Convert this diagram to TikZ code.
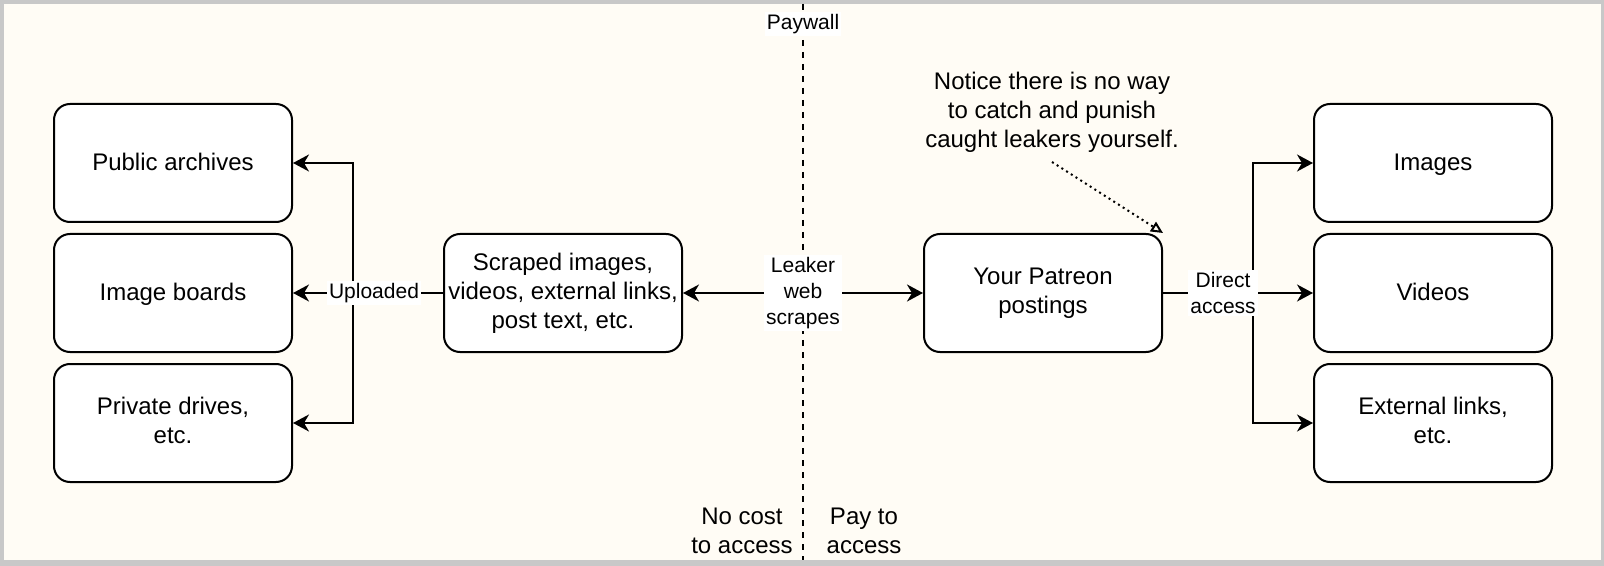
\documentclass[tikz,border=0pt]{standalone}
\usepackage{fontspec}
\setmainfont{Liberation Sans}
\usepackage{xcolor}
\usepackage{tikz}
\usetikzlibrary{arrows.meta,positioning,calc}
\definecolor{canvas}{RGB}{255,252,245}
\definecolor{framegray}{RGB}{200,200,200}
\newcommand{\boxstrut}{\rule[-2.5pt]{0pt}{13pt}}

\begin{document}
\begin{tikzpicture}[x=0.5pt,y=-0.5pt,
  box/.style={draw, line width=1pt, fill=white, rounded corners=8pt,
    minimum width=119pt, minimum height=59pt, inner sep=0pt,
    align=center, font=\fontsize{12}{14.5}\selectfont,
    execute at begin node=\boxstrut, execute at end node=\boxstrut},
  txt/.style={align=center, font=\fontsize{12}{14.5}\selectfont},
  lbl/.style={fill=white, inner sep=1pt, align=center,
    font=\fontsize{10.5}{13}\selectfont},
  link/.style={line width=1pt, -{Stealth[length=8pt,width=8.5pt,inset=2.5pt]}},
  dlink/.style={line width=1pt,
    {Stealth[length=8pt,width=8.5pt,inset=2.5pt]}-{Stealth[length=8pt,width=8.5pt,inset=2.5pt]}},
  notelink/.style={line width=1pt, dash pattern=on 1pt off 1.8pt,
    -{Triangle[open,length=6pt,width=5.5pt]}}]
  \useasboundingbox (0,0) rectangle (1604,566);
  \fill[framegray] (0,0) rectangle (1604,566);
  \fill[canvas] (4,4) rectangle (1601,560);

  % Paywall
  \coordinate (pwtop) at (803,4);
  \coordinate (pwbot) at (803,560);
  \draw[line width=1pt, dash pattern=on 3pt off 3pt] (pwtop) -- (pwbot);
  \node[lbl] (paywall) at (803,24) {Paywall};
  \node[txt] (nocost) at (742,531) {No cost\\to access};
  \node[txt] (payto) at (864,531) {Pay to\\access};

  % Free side
  \node[box] (pub) at (173,163) {Public archives};
  \node[box] (boards) at (173,293) {Image boards};
  \node[box] (drives) at (173,423) {Private drives,\\etc.};
  \node[box] (scraped) at (563,293) {Scraped images,\\videos, external links,\\post text, etc.};

  % Paid side
  \node[box] (patreon) at (1043,293) {Your Patreon\\postings};
  \node[box] (images) at (1433,163) {Images};
  \node[box] (videos) at (1433,293) {Videos};
  \node[box] (extlinks) at (1433,423) {External links,\\etc.};

  % Note
  \node[txt] (note) at (1052,112) {Notice there is no way\\to catch and punish\\caught leakers yourself.};
  \coordinate (notetail) at (1052,162);
  \draw[notelink] (notetail) -- (patreon.north east);

  % Uploaded
  \coordinate (lsplit) at (353,293);
  \draw[link] (scraped.west) -- (lsplit) |- (pub.east);
  \draw[link] (scraped.west) -- (lsplit) |- (drives.east);
  \draw[link] (scraped.west) -- (boards.east) node[lbl, pos=0.46] (uploaded) {Uploaded};

  % Leak
  \draw[dlink] (scraped.east) -- (patreon.west) node[lbl, pos=0.5] (leaker) {Leaker\\web\\scrapes};

  % Direct access
  \coordinate (rsplit) at (1253,293);
  \draw[link] (patreon.east) -- (rsplit) |- (images.west);
  \draw[link] (patreon.east) -- (rsplit) |- (extlinks.west);
  \draw[link] (patreon.east) -- (videos.west) node[lbl, pos=0.4] (direct) {Direct\\access};
\end{tikzpicture}
\end{document}
